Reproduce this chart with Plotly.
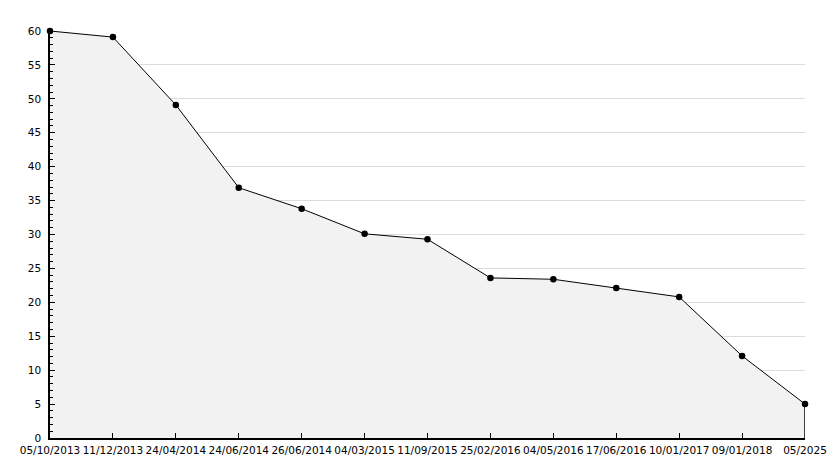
import plotly.graph_objects as go

dates = ["05/10/2013", "11/12/2013", "24/04/2014", "24/06/2014", "26/06/2014",
         "04/03/2015", "11/09/2015", "25/02/2016", "04/05/2016", "17/06/2016",
         "10/01/2017", "09/01/2018", "05/2025"]
values = [60, 59.1, 49.1, 36.9, 33.8, 30.1, 29.3, 23.6, 23.4, 22.1, 20.8, 12.1, 5]

idx = list(range(len(dates)))

fig = go.Figure()
fig.add_trace(go.Scatter(
    x=idx, y=values, mode="lines+markers", fill="tozeroy",
    fillcolor="#f2f2f2", line=dict(color="black", width=1),
    marker=dict(color="black", size=6.5, symbol="circle"),
    hoverinfo="skip", showlegend=False, cliponaxis=False))
# closing edge at the last point
fig.add_trace(go.Scatter(
    x=[idx[-1], idx[-1]], y=[0, values[-1]], mode="lines",
    line=dict(color="black", width=1.5), hoverinfo="skip", showlegend=False))

fig.update_layout(
    width=834, height=468,
    margin=dict(l=50, r=29, t=31, b=30, autoexpand=False),
    paper_bgcolor="white", plot_bgcolor="white",
    font=dict(family="DejaVu Sans", size=10.5, color="black"),
    xaxis=dict(range=[0, len(dates) - 1], tickvals=idx, ticktext=dates,
               showgrid=False, zeroline=False, showline=True, linecolor="black",
               linewidth=1.5, ticks="inside", ticklen=5, tickcolor="black",
               tickangle=0, automargin=False, ticklabelstandoff=2),
    yaxis=dict(range=[0, 60], dtick=5, showgrid=True, gridcolor="#dcdcdc",
               gridwidth=1, zeroline=False, showline=True, linecolor="black",
               linewidth=1.5, ticks="inside", ticklen=5, tickcolor="black",
               automargin=False, ticklabelstandoff=5,
               minor=dict(dtick=1, ticks="inside", ticklen=3, tickcolor="black",
                          showgrid=False)),
)
fig.write_html("out.html", config={"displayModeBar": False},
               post_script="document.body.style.margin='0';document.body.style.overflow='hidden';")
